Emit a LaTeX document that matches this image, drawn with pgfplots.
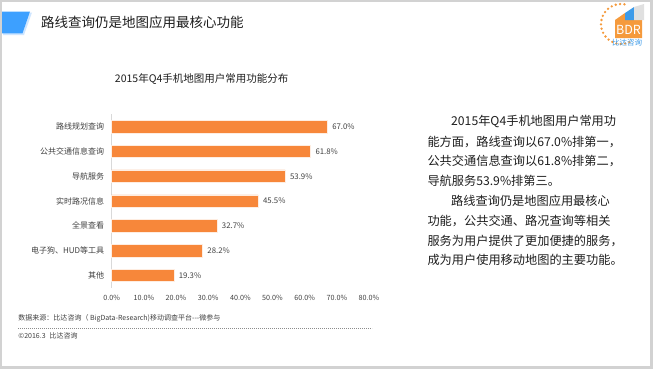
\documentclass[border=0pt]{standalone}
\usepackage{pgfplots}
\pgfplotsset{compat=1.18}
\usepackage{fontspec}
\setmainfont{Noto Sans CJK SC}
\definecolor{barorange}{HTML}{F7873A}
\definecolor{logoorange}{HTML}{F59A3C}
\definecolor{titleblue}{HTML}{3DA0FF}
\definecolor{shadowblue}{HTML}{CFE6FF}
\definecolor{logoblue}{HTML}{3D9BE9}
\definecolor{framegray}{HTML}{D2D2D2}
\definecolor{txt}{HTML}{1E1E1E}
\definecolor{lbl}{HTML}{404040}
\begin{document}
\begin{tikzpicture}[x=1bp,y=1bp]
% frame
\fill[framegray] (0,0) rectangle (653,-369);
\fill[white] (2,-2) rectangle (650,-366);
\useasboundingbox (0,0) rectangle (653,-369);
% title bar
\fill[shadowblue] (3,-12.5) -- (32,-12.5) -- (24,-35) -- (3,-35) -- cycle;
\fill[titleblue] (2,-11.5) -- (30,-11.5) -- (22.5,-33.3) -- (2,-33.3) -- cycle;
\node[anchor=west, text=txt, font=\fontsize{13.5bp}{16bp}\selectfont, inner sep=0pt] at (41,-22.5) {路线查询仍是地图应用最核心功能};
% logo
\draw[logoorange, line width=2.6bp, line cap=round, dash pattern=on 0pt off 4.4bp] (621,-24) ++(80:20) arc[start angle=80, end angle=295, radius=20];
\fill[logoorange] (615,-38) -- (615,-20) -- (625,-13) -- (625,-20) -- (642,-20) -- (642,-38) -- cycle;
\fill[logoblue] (625,-20) -- (625,-13) -- (634,-7) -- (634,-20) -- cycle;
\fill[black!12] (634,-20) -- (634,-7) -- (644,-4) -- (644,-20) -- cycle;
\node[text=white, font=\fontsize{12.5bp}{13bp}\selectfont, inner sep=0pt] at (628.5,-29.5) {BDR};
\node[text=logoblue, font=\fontsize{7.5bp}{8bp}\selectfont, inner sep=0pt] at (627,-42.5) {比达咨询};
% chart title
\node[text=txt, font=\fontsize{10.5bp}{12bp}\selectfont, inner sep=0pt] at (201.7,-79) {2015年Q4手机地图用户常用功能分布};
\begin{axis}[
  at={(111.7bp,-114.3bp)}, anchor=north west,
  scale only axis, width=257.3bp, height=173.4bp,
  xbar, bar width=12.5bp,
  xmin=0, xmax=80, ymin=-0.5, ymax=6.5,
  ytick={0,...,6},
  yticklabels={其他,{电子狗、HUD等工具},全景查看,实时路况信息,导航服务,公共交通信息查询,路线规划查询},
  xtick={0,10,...,80},
  xticklabels={0.0\%,10.0\%,20.0\%,30.0\%,40.0\%,50.0\%,60.0\%,70.0\%,80.0\%},
  major tick length=0pt,
  axis lines*=left,
  x axis line style={draw=none},
  y axis line style={draw=black!15, line width=0.8bp},
  /pgf/number format/assume math mode=true,
  yticklabel style={font=\fontsize{8bp}{9bp}\selectfont, text=lbl, xshift=-4bp},
  xticklabel style={font=\fontsize{7.2bp}{8bp}\selectfont, text=lbl, yshift=-4bp},
  point meta=x,
  nodes near coords={\pgfmathprintnumber[fixed,fixed zerofill,precision=1]{\pgfplotspointmeta}\%},
  nodes near coords style={font=\fontsize{7.8bp}{9bp}\selectfont, text=lbl, anchor=west, xshift=1.5bp},
  clip=false,
]
\addplot[fill=barorange, draw=white!85!barorange, line width=0.5bp] coordinates {
(19.3,0) (28.2,1) (32.7,2) (45.5,3) (53.9,4) (61.8,5) (67.0,6)};
\end{axis}
% right text
\begin{scope}[every node/.style={anchor=west, inner sep=0pt, text=txt, font=\fontsize{12.2bp}{14bp}\selectfont}]
\node at (451,-121.7) {2015年Q4手机地图用户常用功};
\node at (427.3,-141.5) {能方面，路线查询以67.0\%排第一，};
\node at (427.3,-161.3) {公共交通信息查询以61.8\%排第二，};
\node at (427.3,-181.1) {导航服务53.9\%排第三。};
\node at (451,-200.9) {路线查询仍是地图应用最核心};
\node at (427.3,-220.7) {功能，公共交通、路况查询等相关};
\node at (427.3,-240.5) {服务为用户提供了更加便捷的服务，};
\node at (427.3,-260.3) {成为用户使用移动地图的主要功能。};
\end{scope}
% source
\node[anchor=west, inner sep=0pt, text=lbl, font=\fontsize{7bp}{8bp}\selectfont] at (18.3,-318) {数据来源：比达咨询（ BigData-Research)移动调查平台-{}-{}-微参与};
\draw[black!45, line width=0.4bp, dash pattern=on 1bp off 1bp] (18,-327.7) -- (372,-327.7);
\node[anchor=west, inner sep=0pt, text=lbl, font=\fontsize{7bp}{8bp}\selectfont] at (18.3,-335.5) {©2016.3\hspace{4bp}比达咨询};
\end{tikzpicture}
\end{document}
